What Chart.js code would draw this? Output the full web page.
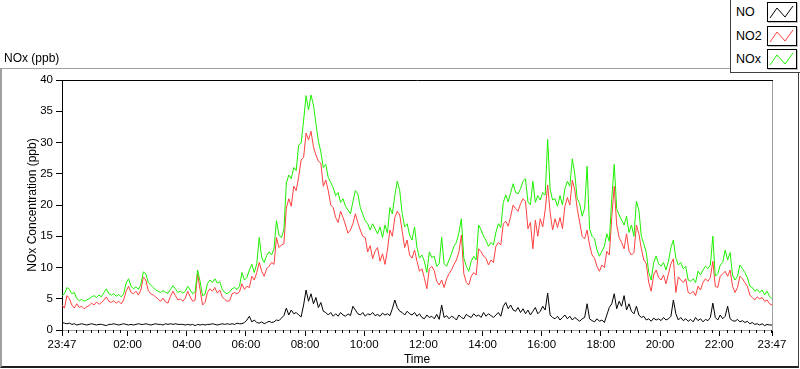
<!DOCTYPE html>
<html><head><meta charset="utf-8">
<script src="https://cdn.jsdelivr.net/npm/chart.js@4.4.1/dist/chart.umd.min.js"></script>
<style>
html,body{margin:0;padding:0;background:#fff;width:800px;height:369px;overflow:hidden;font-family:"Liberation Sans",Arial,sans-serif;}
#wrap{position:relative;width:800px;height:369px;}
#c{position:absolute;left:0;top:0;}
#frame{position:absolute;left:0;top:68px;width:799px;height:300px;box-sizing:border-box;border-top:1px solid #a0a0a0;border-left:2px solid #a0a0a0;border-right:1px solid #404040;border-bottom:2px solid #202020;pointer-events:none;}
#ytop{position:absolute;left:4px;top:51px;font-size:12px;color:#000;white-space:nowrap;}
#legend{position:absolute;left:730px;top:0;width:70px;height:73px;box-sizing:border-box;background:#fff;border-left:1px solid #404040;border-bottom:1px solid #404040;}
.row{position:absolute;left:0;width:69px;height:21px;}
.row span{position:absolute;left:5px;top:3px;font-size:12.5px;color:#000;}
.row svg{position:absolute;left:36px;top:0;}
</style></head>
<body><div id="wrap">
<canvas id="c" width="800" height="369"></canvas>
<div id="frame"></div>
<div id="ytop">NOx (ppb)</div>
<div id="legend"></div>
</div>
<script>
// ---- data (5-minute readings starting at 23:47) ----
const START_MINUTE = 23*60+47;
const STEP_MIN = 5;
const majorTickMinutes = [0,133,253,373,493,613,733,853,973,1093,1213,1333,1440];
const majorTickLabels = ['23:47','02:00','04:00','06:00','08:00','10:00','12:00','14:00','16:00','18:00','20:00','22:00','23:47'];
const seriesNames = ['NO','NO2','NOx'];
const seriesColors = ['#000000','#ff4040','#1cf000'];

const NO = [
1.2,1.1,1.0,1.1,0.9,1.0,0.8,0.9,1.0,0.9,0.8,0.9,
1.0,0.9,0.8,0.9,0.9,0.8,0.7,0.9,0.9,1.0,0.9,0.8,
0.9,1.0,0.9,0.8,0.9,0.8,0.9,1.0,0.9,0.9,1.0,0.9,
0.8,0.9,1.0,0.9,0.9,0.8,1.0,0.9,1.0,0.9,1.0,0.9,
0.9,0.9,0.8,0.9,0.8,0.9,0.7,0.9,0.8,0.9,0.8,0.9,
0.9,1.0,0.9,0.8,0.9,1.0,0.9,1.0,0.9,1.0,0.9,1.1,
1.0,1.0,1.2,1.6,2.2,1.3,1.6,1.2,1.1,1.3,1.0,1.2,
1.4,1.2,1.3,1.6,1.5,1.9,2.3,3.5,2.4,3.2,2.6,2.8,
2.4,2.1,4.0,6.4,4.6,5.8,4.2,5.2,3.6,4.4,3.0,2.8,
2.4,2.8,2.2,2.6,2.2,2.8,2.4,2.2,2.6,2.3,3.8,3.2,
2.6,2.4,2.8,2.2,2.6,2.4,2.8,2.3,2.5,2.2,2.7,2.4,
2.6,2.3,3.4,4.8,3.6,3.0,2.8,2.4,3.0,2.6,2.4,2.8,
2.2,2.6,2.0,1.8,2.4,2.0,2.2,1.8,2.5,1.7,4.0,2.0,
2.3,1.8,2.2,2.0,1.6,2.4,2.0,1.8,2.5,2.2,2.0,2.6,
2.2,2.4,2.0,2.8,2.2,2.6,2.3,2.0,2.4,2.8,2.2,3.8,
4.4,3.4,4.0,3.2,3.0,3.6,2.8,3.4,2.6,3.2,2.4,3.0,
3.6,2.6,3.0,3.8,3.2,5.9,2.4,2.0,1.8,2.2,1.6,2.0,
2.4,1.8,2.2,1.6,2.0,1.7,1.4,1.8,2.0,4.2,1.8,1.5,
1.3,1.8,1.4,1.6,1.2,2.4,3.6,4.2,5.8,3.4,4.6,3.8,
5.5,3.2,4.2,3.0,2.6,3.8,2.4,2.0,2.2,1.6,1.8,1.4,
1.9,1.6,1.8,1.5,2.0,1.6,1.8,2.2,4.8,2.6,1.6,2.0,
1.5,1.8,1.4,1.7,1.3,2.0,1.5,1.8,1.3,1.7,1.5,2.0,
4.3,2.0,1.6,2.4,1.8,2.2,3.8,1.8,1.5,1.4,1.7,1.3,
1.5,1.2,1.4,1.0,1.2,0.9,1.0,0.8,1.0,0.7,0.9,0.8,
0.8];

const NO2 = [
4.0,3.5,5.5,5.0,4.0,3.5,4.2,3.6,3.8,3.4,3.7,3.9,
4.3,4.0,4.5,4.1,4.4,4.8,5.3,4.6,4.4,4.7,4.3,4.6,
4.2,4.8,6.2,7.0,6.0,5.8,6.2,5.6,6.4,8.5,8.0,6.3,
5.8,5.6,5.3,4.9,4.6,5.1,4.5,4.3,5.4,6.2,5.5,4.8,
5.0,4.6,5.1,6.2,5.3,4.6,4.8,9.0,6.5,4.0,4.4,6.0,
6.6,6.2,6.8,5.9,6.4,5.3,4.9,4.6,4.7,5.8,6.0,5.8,
6.1,7.4,6.5,7.0,6.8,8.6,8.0,9.2,10.8,9.4,8.6,9.8,
10.2,10.8,10.5,14.8,13.2,13.6,13.8,19.5,21.0,19.8,23.0,22.3,
24.5,27.2,27.6,31.5,30.4,31.8,29.3,28.0,27.0,26.7,23.0,24.0,
22.3,20.0,19.6,18.0,17.2,19.0,18.0,16.8,15.5,16.0,17.0,18.6,
17.2,16.0,15.0,14.8,12.5,13.5,11.4,12.6,13.2,11.0,12.2,10.5,
12.8,16.0,15.0,18.0,19.0,18.4,15.8,13.2,14.4,12.0,11.5,12.8,
11.0,9.4,9.8,8.3,6.6,9.8,10.2,9.5,7.8,7.2,8.0,6.8,
8.2,9.0,9.6,10.5,11.2,12.5,15.2,9.0,7.6,7.2,8.6,9.2,
8.8,13.0,12.5,11.8,11.5,10.4,11.2,10.8,13.4,14.0,13.6,17.0,
17.4,16.6,18.2,20.0,19.4,19.0,20.2,21.0,20.6,16.2,17.2,13.0,
17.6,15.0,17.8,16.5,19.2,23.2,18.8,16.0,17.8,16.4,18.0,16.2,
19.8,21.2,20.0,24.0,22.4,19.4,17.2,15.0,14.6,16.0,13.6,12.0,
11.5,10.2,9.4,10.4,10.0,12.6,12.0,18.0,23.0,16.8,14.8,14.0,
13.0,15.4,12.6,12.0,12.4,16.8,15.4,13.0,11.2,10.6,7.6,6.2,
8.8,9.6,8.4,8.0,8.8,7.4,9.0,10.6,11.4,6.0,8.5,8.0,
7.6,8.2,6.0,5.8,6.2,5.5,7.0,6.4,7.6,8.2,7.8,8.4,
11.0,7.0,6.8,8.6,9.0,9.4,8.6,9.6,7.0,6.0,6.8,8.6,
8.2,7.6,7.0,5.6,5.2,4.8,5.3,5.0,5.2,4.6,4.8,4.2,
4.0];

const NOx = [
5.5,5.8,6.8,6.5,5.8,6.0,5.0,4.7,4.9,4.6,4.8,5.0,
5.3,5.5,5.2,5.6,5.3,6.0,6.6,5.8,5.6,5.8,5.4,5.7,
5.3,5.8,7.5,8.2,7.0,6.6,6.9,6.5,7.3,9.3,9.0,7.6,
7.2,6.8,6.4,6.2,6.0,6.3,6.0,5.9,6.5,7.1,6.6,6.0,
6.2,5.9,6.2,7.0,6.4,5.8,6.1,9.6,7.8,5.5,5.7,7.4,
8.0,7.6,8.2,7.5,7.7,6.5,6.0,5.8,6.1,6.6,6.8,6.5,
7.0,9.2,8.0,8.4,9.6,10.5,9.2,10.6,14.8,11.6,10.8,11.9,
12.5,12.0,13.0,17.5,15.2,14.8,16.0,23.5,24.8,24.2,26.0,25.5,
29.6,29.9,33.5,37.5,35.2,37.6,36.0,33.0,30.2,28.5,26.0,26.5,
24.4,23.6,22.8,21.5,22.0,20.4,21.0,19.8,19.2,18.6,20.5,22.3,
21.8,19.6,18.5,17.5,17.0,16.0,17.0,16.2,15.4,16.5,14.8,16.8,
15.5,19.6,18.6,21.5,23.8,22.3,18.6,16.5,17.0,15.2,14.4,16.5,
13.2,11.5,12.0,11.0,9.2,12.5,11.6,11.8,10.2,10.6,14.8,10.6,
10.2,11.2,12.2,13.4,14.0,15.6,17.8,11.5,10.2,9.4,11.0,11.8,
11.2,16.8,16.0,15.0,14.3,13.4,14.0,13.6,15.6,17.0,16.4,20.4,
21.6,20.5,22.0,23.4,22.0,21.8,22.6,23.8,24.2,20.5,20.0,23.8,
20.4,21.5,20.8,22.0,21.6,30.5,22.5,20.8,21.0,19.8,21.5,20.0,
22.6,23.8,23.0,27.4,25.0,21.0,20.2,18.2,19.5,26.2,16.2,15.0,
14.6,12.8,11.8,12.6,13.4,15.4,14.2,21.0,26.5,19.4,18.4,17.6,
16.8,18.2,15.6,16.8,15.0,20.6,19.2,15.0,13.8,12.4,9.2,8.0,
10.8,11.8,10.6,10.2,10.8,9.6,11.0,13.2,14.4,11.5,10.4,10.8,
9.8,10.2,8.0,7.8,8.2,7.6,9.4,8.8,9.6,10.2,9.8,10.4,
15.0,8.6,9.0,10.4,10.8,12.8,11.2,12.4,8.8,8.0,8.6,10.4,
9.8,9.2,8.4,7.0,6.8,6.2,6.5,6.0,6.4,5.6,6.2,5.4,
5.0];

// ---- build ----
const sampleMinutes = NO.map((_, i) => i * STEP_MIN);

// legend (HTML)
const leg = document.getElementById('legend');
seriesNames.forEach((n, k) => {
  const r = document.createElement('div');
  r.className = 'row';
  r.style.top = (2 + k * 23.5) + 'px';
  r.innerHTML = '<span>' + n + '</span>' +
    '<svg width="31" height="21"><rect x="0.5" y="0.5" width="29" height="19" fill="#fff" stroke="#000"/>' +
    '<line x1="30.5" y1="1" x2="30.5" y2="21" stroke="#c0c0c0"/><line x1="1" y1="20.5" x2="31" y2="20.5" stroke="#c0c0c0"/>' +
    '<polyline points="3,16 10,6 18,15 26,4" fill="none" stroke="' + seriesColors[k] + '" stroke-width="1"/></svg>';
  leg.appendChild(r);
});

const extraDraw = {
  id: 'extraDraw',
  afterDraw(c) {
    const ctx = c.ctx, xs = c.scales.x, a = c.chartArea;
    ctx.save();
    ctx.strokeStyle = '#000'; ctx.lineWidth = 1;
    ctx.beginPath();
    for (let m = 13; m < 1440; m += 15) {
      if (majorTickMinutes.includes(m)) continue;
      const px = Math.round(xs.getPixelForValue(m)) + 0.5;
      ctx.moveTo(px, a.bottom); ctx.lineTo(px, a.bottom + 3);
    }
    ctx.stroke();
    ctx.beginPath(); ctx.moveTo(a.left, a.top + 0.5); ctx.lineTo(a.right + 1, a.top + 0.5); ctx.stroke();
    ctx.strokeStyle = '#a0a0a0';
    ctx.beginPath(); ctx.moveTo(a.right + 0.5, a.top + 1); ctx.lineTo(a.right + 0.5, a.bottom); ctx.stroke();
    ctx.restore();
  }
};

const FONT = '"Liberation Sans", Arial, sans-serif';
const ds = (label, data, color) => ({label, data, borderColor: color, backgroundColor: color, borderWidth: 1, pointRadius: 0, tension: 0, fill: false});

new Chart(document.getElementById('c'), {
  type: 'line',
  data: {
    labels: sampleMinutes,
    datasets: [
      ds(seriesNames[2], NOx, seriesColors[2]),
      ds(seriesNames[1], NO2, seriesColors[1]),
      ds(seriesNames[0], NO, seriesColors[0])
    ]
  },
  options: {
    responsive: false, animation: false, devicePixelRatio: 1,
    layout: {padding: {left: 0, right: 28, top: 80, bottom: 0}},
    plugins: {legend: {display: false}, tooltip: {enabled: false}},
    scales: {
      x: {
        type: 'linear', min: 0, max: 1440,
        afterBuildTicks: s => { s.ticks = majorTickMinutes.map(v => ({value: v})); },
        afterFit: s => { s.height = 39; },
        ticks: {autoSkip: false, maxRotation: 0, padding: 2, color: '#000', font: {family: FONT, size: 11.5},
          callback: v => { const k = majorTickMinutes.indexOf(v); return k >= 0 ? majorTickLabels[k] : ''; }},
        grid: {drawOnChartArea: false, drawTicks: true, tickLength: 6, tickColor: '#000'},
        border: {display: true, color: '#a0a0a0', width: 1},
        title: {display: true, text: 'Time', color: '#000', font: {family: FONT, size: 12}, padding: {top: 0, bottom: 2}}
      },
      y: {
        min: 0, max: 40,
        afterFit: s => { s.width = 62; },
        ticks: {stepSize: 5, padding: 3, color: '#000', font: {family: FONT, size: 11.5}},
        grid: {drawOnChartArea: false, drawTicks: true, tickLength: 6, tickColor: '#000'},
        border: {display: true, color: '#000', width: 1},
        title: {display: true, text: 'NOx Concentration (ppb)', color: '#000', font: {family: FONT, size: 12}, padding: {top: 25, bottom: 0}}
      }
    }
  },
  plugins: [extraDraw]
});
</script>
</body></html>
